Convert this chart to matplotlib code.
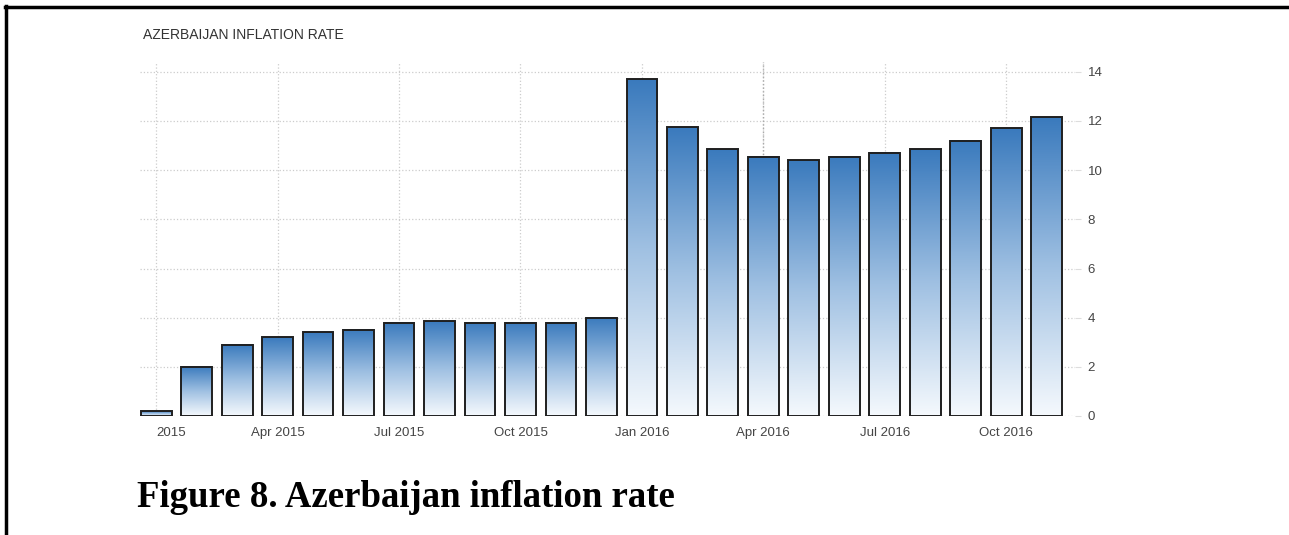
import numpy as np
import matplotlib.pyplot as plt
from matplotlib.colors import LinearSegmentedColormap
from matplotlib.lines import Line2D

# monthly inflation rate, Jan 2015 - Nov 2016 (%)
months = ['Jan 2015', 'Feb 2015', 'Mar 2015', 'Apr 2015', 'May 2015', 'Jun 2015',
          'Jul 2015', 'Aug 2015', 'Sep 2015', 'Oct 2015', 'Nov 2015', 'Dec 2015',
          'Jan 2016', 'Feb 2016', 'Mar 2016', 'Apr 2016', 'May 2016', 'Jun 2016',
          'Jul 2016', 'Aug 2016', 'Sep 2016', 'Oct 2016', 'Nov 2016']
rates = [0.2, 2.0, 2.9, 3.2, 3.4, 3.5, 3.8, 3.85, 3.8, 3.8, 3.8, 4.0,
         13.7, 11.75, 10.85, 10.55, 10.4, 10.55, 10.7, 10.85, 11.2, 11.7, 12.15]

tick_months = ['Jan 2015', 'Apr 2015', 'Jul 2015', 'Oct 2015',
               'Jan 2016', 'Apr 2016', 'Jul 2016', 'Oct 2016']
tick_labels = ['2015', 'Apr 2015', 'Jul 2015', 'Oct 2015',
               'Jan 2016', 'Apr 2016', 'Jul 2016', 'Oct 2016']
y_ticks = [0, 2, 4, 6, 8, 10, 12, 14]

fig = plt.figure(figsize=(12.89, 5.35), dpi=100)
ax = fig.add_axes([140 / 1289, 119 / 535, 935 / 1289, 354 / 535])

x = np.arange(len(months))
bars = ax.bar(x, rates, width=0.76, facecolor='none', edgecolor='#1f1f1f',
              linewidth=1.4, zorder=3)

# vertical gradient inside every bar (white at the bottom, blue at the top)
cmap = LinearSegmentedColormap.from_list('bar', ['#f5f9fd', '#9fc0e2', '#3a7abd'])
grad = np.linspace(0, 1, 256).reshape(-1, 1)
for b in bars:
    x0, w, h = b.get_x(), b.get_width(), b.get_height()
    ax.imshow(grad, extent=[x0, x0 + w, 0, h], origin='lower', cmap=cmap,
              aspect='auto', zorder=2)

ax.set_xlim(-0.4, 22.7)
ax.set_ylim(0, 14.4)

tick_pos = [months.index(m) for m in tick_months]
ax.set_xticks(tick_pos)
ax.set_xticklabels(tick_labels, fontsize=9.5, color='#444444', family='Liberation Sans')
ax.get_xticklabels()[0].set_horizontalalignment('left')
ax.tick_params(axis='x', length=0, pad=8)

ax.yaxis.tick_right()
ax.set_yticks(y_ticks)
ax.set_yticklabels([str(v) for v in y_ticks], fontsize=9.5, color='#444444',
                   family='Liberation Sans')
ax.tick_params(axis='y', length=4, color='#dddddd', pad=5)

ax.grid(True, linestyle=':', color='#cccccc', linewidth=0.9, zorder=0)
ax.set_axisbelow(True)
ax.axvline(months.index('Apr 2016'), color='#aaaaaa', linewidth=1, linestyle=':', zorder=1)
for s in ax.spines.values():
    s.set_visible(False)

fig.text(143 / 1289, 1 - 35 / 535, 'AZERBAIJAN INFLATION RATE', fontsize=10,
         color='#333333', family='Liberation Sans', va='center')

fig.text(137 / 1289, 1 - 507 / 535, 'Figure 8. Azerbaijan inflation rate',
         fontsize=26.5, fontweight='bold', family='Liberation Serif',
         va='baseline', color='black')

# page border on the left and top
fig.add_artist(Line2D([6 / 1289, 6 / 1289], [0, 1 - 6 / 535], color='black', linewidth=2.5))
fig.add_artist(Line2D([5 / 1289, 1], [1 - 7 / 535, 1 - 7 / 535], color='black', linewidth=2.5))

fig.savefig('out.png', dpi=100)
